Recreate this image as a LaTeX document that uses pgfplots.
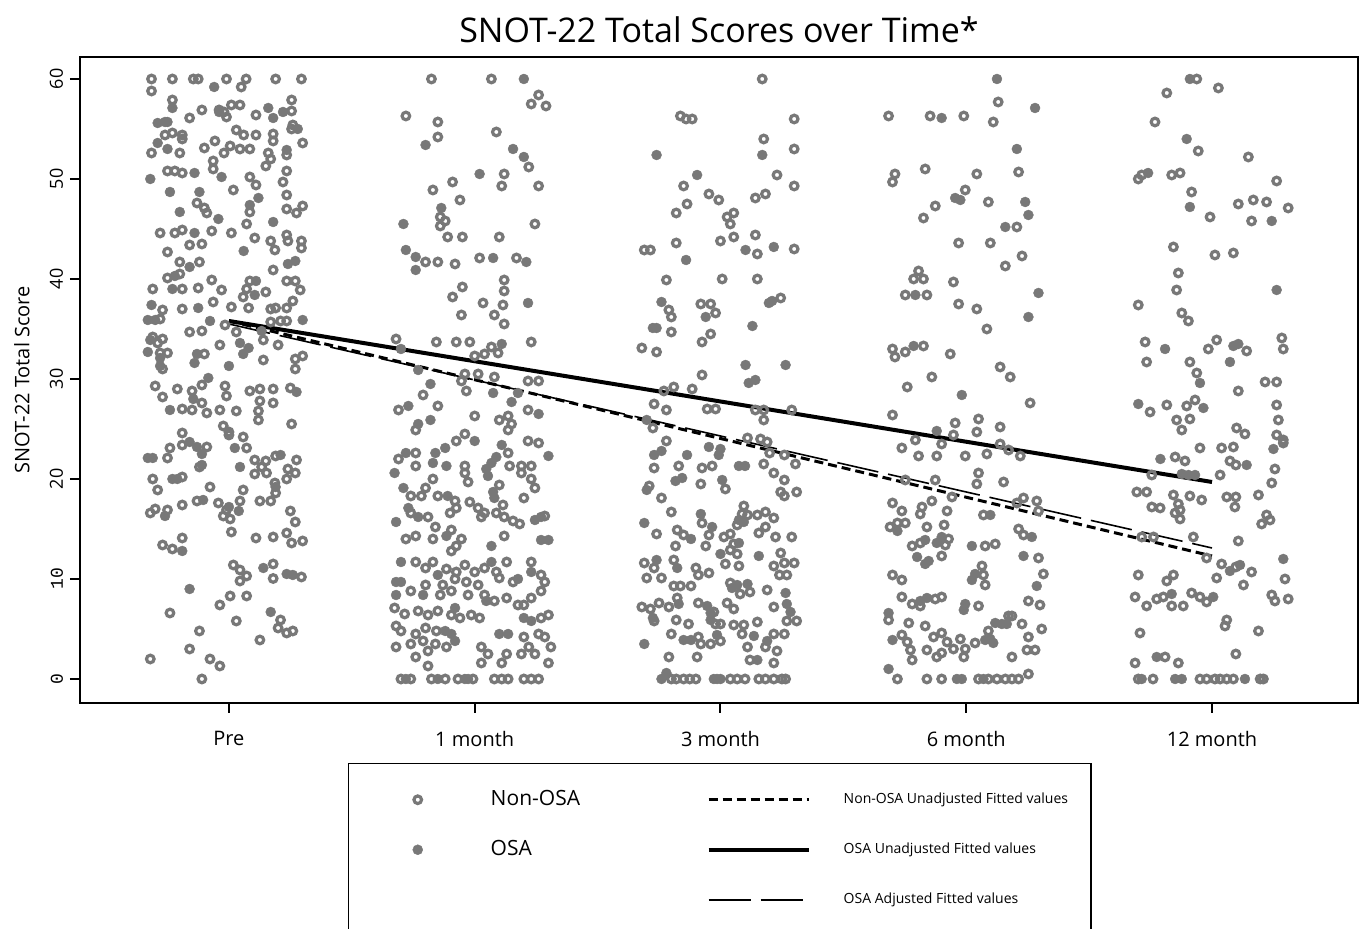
\documentclass[border=0pt]{standalone}
\usepackage{fontspec}
\setmainfont{Open Sans}
\setmonofont{Liberation Mono}
\usepackage{pgfplots}
\pgfplotsset{compat=1.18}
\definecolor{ptgray}{RGB}{120,120,120}
\pgfplotsset{
  Nstyle/.style={only marks, mark=o, mark size=1.9pt, mark options={line width=1.6pt, draw=ptgray}},
  Ostyle/.style={only marks, mark=*, mark size=2.5pt, mark options={draw=ptgray, fill=ptgray, line width=0.2pt}},
  legmark/.style={legend image code/.code={\path[draw=none,fill=none] (-34.5pt,-12.5pt) rectangle (36.5pt,12.5pt); \draw[##1] plot coordinates {(0pt,0pt)};}},
  legline/.style={legend image code/.code={\path[draw=none,fill=none] (-49pt,-12.5pt) rectangle (67.5pt,12.5pt); \draw[##1] (0pt,0pt) -- (50pt,0pt);}},
}
\begin{document}
\begin{tikzpicture}
\useasboundingbox (0pt,0pt) rectangle (681pt,464.5pt);
\node[font=\fontsize{17}{20}\selectfont] at (359.5pt,449.5pt) {SNOT-22 Total Scores over Time*};
\begin{axis}[
  at={(40pt,113pt)}, anchor=south west,
  scale only axis, width=639pt, height=323pt,
  xmin=-0.606, xmax=4.594, ymin=-2.4, ymax=62.2,
  axis line style={line width=1pt},
  tick style={black, line width=1pt},
  major tick length=5pt, tick align=outside,
  xtick pos=bottom, ytick pos=left,
  xtick={0,1,2,3,4},
  xticklabels={Pre,1 month,3 month,6 month,12 month},
  xticklabel style={font=\fontsize{10}{12}\selectfont, yshift=-5.5pt},
  ytick={0,10,20,30,40,50,60},
  yticklabels={\texttt{0},\texttt{10},20,30,40,50,60},
  yticklabel style={rotate=90, anchor=south, font=\fontsize{9}{11}\selectfont},
  ylabel={SNOT-22 Total Score},
  ylabel style={at={(axis description cs:-0.0454,0.5)}, anchor=center, font=\fontsize{10}{12}\selectfont},
  legend columns=2,
  legend cell align=left,
  legend style={at={(0.2097,-0.0929)}, anchor=north west, draw=black, line width=0.75pt,
    inner xsep=0pt, inner ysep=5.5pt, column sep=0pt, row sep=0pt, nodes={inner sep=0pt}},
]
% ---------- Non-OSA points ----------
\addplot[Nstyle, forget plot] table {
x y
-0.315 60
-0.23 60
-0.145 60
-0.125 60
-0.01 60
0.07 60
0.19 60
0.295 60
-0.315 58.8
0.05 59.2
-0.23 57.9
0.01 57.4
0.045 57.4
0.255 57.9
-0.04 56.9
0.255 56.8
-0.02 56.7
-0.11 56.9
0.26 55.4
-0.16 56.1
-0.01 56.2
0.11 56.4
-0.26 54.4
-0.23 54.6
-0.19 54.4
0.03 54.9
0.06 54.4
0.11 54.4
0.18 54.5
0.255 55
-0.315 52.6
-0.2 52.6
-0.19 54
-0.1 53.1
-0.057 53.8
0.005 53.3
-0.02 52.6
0.045 53
0.085 53
0.16 52.6
0.18 53.8
0.235 52.4
0.3 53.6
-0.064 51.8
0.17 52
0.15 51.3
-0.25 50.8
-0.22 50.8
-0.19 50.6
-0.064 51
0.085 50.2
0.235 50.8
0.018 48.9
0.11 49.4
0.22 49.7
0.235 48.4
-0.13 47.6
-0.1 47.1
-0.09 46.6
0.085 46.7
0.235 47
0.275 46.6
0.3 47.3
0.072 45.5
-0.28 44.6
-0.22 44.6
-0.19 44.9
-0.16 43.4
-0.11 43.5
-0.07 44.8
0.01 44.6
0.105 44.1
0.17 43.8
0.235 44.4
0.24 43.8
0.295 43.8
0.295 43.1
0.187 42.9
-0.25 42.7
-0.2 41.7
-0.12 41.7
0.18 40.9
-0.25 40.1
-0.2 40.5
-0.31 39
-0.19 39
-0.125 39.1
-0.07 39.9
-0.03 38.9
0.072 39
0.085 39.8
0.058 38.2
0.15 38.7
0.235 39.8
0.27 39.8
0.29 38.9
-0.19 37
-0.064 37.7
0.01 37.2
0.08 37.1
0.17 37
0.19 37.1
0.235 37.1
0.26 37.8
-0.27 36.9
-0.28 36
-0.016 35.4
0.17 35.7
0.21 35.8
0.235 35.8
-0.16 34.7
-0.11 34.8
0.03 34.7
-0.31 34.2
-0.29 33.6
-0.27 34
-0.28 32.6
-0.25 32.6
0.14 33.9
0.2 33.4
0.3 32.3
0.27 32
-0.037 33.4
-0.1 32.5
-0.27 31
0.14 31.9
0.27 31
-0.3 29.3
-0.21 29
-0.27 28.2
-0.15 28.8
-0.11 29.4
-0.11 27.6
-0.01 28.3
-0.016 29.3
0.085 28.8
0.126 29
0.126 27.8
0.12 26.8
0.18 29
0.18 27.6
0.25 29.1
-0.19 27
-0.15 26.9
-0.09 26.6
-0.037 26.9
0.03 26.8
0.12 25.9
0.255 25.5
-0.19 24.6
-0.023 25.3
0 24.7
0 24.4
0.058 24.2
0.072 23.1
-0.19 23.4
-0.24 23.1
-0.09 23.2
-0.25 22.1
0.105 21.9
0.15 21.8
0.19 22.3
0.275 21.9
0.24 21
-0.12 21.2
0.133 21.2
0.153 20.6
0.105 20.5
-0.31 20
-0.29 18.9
-0.19 20.2
0.187 19.6
0.19 18.6
0.235 20
0.27 20.6
-0.077 19.2
0.058 18.9
-0.13 17.8
-0.19 17.4
-0.25 16.9
-0.32 16.6
-0.3 17
-0.043 17.6
-0.01 16.9
-0.023 16.3
0.005 16
0.045 17.8
0.126 17.8
0.17 17.8
0.25 16.8
0.27 15.7
0.01 14.7
-0.19 14.1
0.11 14.1
0.18 14.2
0.235 14.6
0.255 13.6
0.3 13.8
-0.27 13.4
-0.23 13
0.018 11.4
0.045 10.9
0.072 10.3
0.18 11.5
0.045 9.8
0.18 10.05
0.295 10.2
0.005 8.3
0.072 8.3
-0.037 7.4
-0.24 6.6
0.03 5.8
0.21 5.9
-0.12 4.8
0.2 5.1
0.235 4.6
0.26 4.8
0.126 3.9
-0.16 3
-0.32 2
-0.077 2
-0.037 1.3
-0.11 0
0.824 60
1.068 60
1.26 58.4
1.23 57.5
1.29 57.3
0.72 56.3
0.85 55.7
1.088 54.7
0.85 54.2
1.22 51.2
1.12 50.5
0.91 49.7
1.11 49.3
1.26 49.3
0.83 48.9
0.94 47.9
0.86 46.2
0.88 45.8
0.86 45.3
1.245 45.5
0.89 44.2
0.95 44.2
1.1 44.2
0.8 41.7
0.85 41.7
0.92 41.5
1.02 42.1
1.17 42.1
1.12 39.9
1.12 38.8
0.95 39.2
0.91 38.2
1.034 37.6
1.115 37.4
1.08 36.4
0.946 36.4
1.12 35.5
0.68 34
0.844 33.7
0.925 33.7
0.98 33.7
1.068 33.2
1.23 33.7
1.095 32.6
1 32.3
1.04 32.5
0.96 30.5
1.014 30.5
0.946 29.8
1.08 30.2
1.217 29.8
1.26 29.8
0.966 28.8
0.79 28.4
0.69 26.9
0.85 27.3
1 26.3
1.136 26.3
1.217 26.9
1.1 25.9
0.76 24.9
1.136 24.9
1.15 25.5
0.96 24.5
0.925 23.8
1.217 23.8
1.26 23.6
0.76 22.6
0.69 22
1.136 22.6
0.96 21.3
0.96 20.6
1.142 21.3
1.19 21.3
1.23 21.3
1.19 20.6
1.23 20
0.76 21.3
0.83 20
0.973 19.7
1.1 19.4
1.245 19.1
0.8 19.1
0.74 18.3
0.783 18.3
0.85 18.3
0.92 17.8
0.98 17.7
1.014 17.1
1.04 16.6
1.088 16.6
1.115 17.4
1.2 18.1
0.74 16.6
0.81 16.2
0.9 16.6
0.925 17.1
1.027 16.2
1.12 16.2
1.156 15.8
1.183 15.5
1.285 16.3
0.84 15.2
0.905 14.9
0.72 14
0.76 14.3
0.83 14
0.946 14
0.925 13.3
1.12 14.3
0.905 12.8
0.76 11.7
0.8 11.1
0.83 11.7
0.885 11
0.925 10.7
0.96 11.4
1 10.7
1.04 11.1
1.088 10.7
1.13 11.7
1.23 11.7
1.27 10.4
1.285 9.7
0.8 9.4
0.87 9.4
0.92 10
0.966 9.7
1.014 9.4
1.1 10.1
1.156 9.7
1.27 8.8
0.74 8.8
0.86 8.4
0.905 8.8
0.973 8.4
1.04 8.4
1.08 7.8
1.13 8.1
1.176 7.4
1.2 7.4
1.23 8.1
0.674 7.1
0.715 6.5
0.77 6.8
0.81 6.4
0.85 6.8
0.905 6.4
0.94 6.1
0.986 6.4
1.02 6.1
1.27 6.1
1.3 6.4
0.68 5.3
0.7 4.8
0.76 4.5
0.8 5.1
0.844 4.8
0.74 3.5
0.79 3.8
0.84 3.5
0.885 3.2
0.68 3.2
1.2 4.2
1.26 4.5
1.285 4.2
1.22 3.2
1.31 3.2
1.027 3.2
1.054 2.5
0.76 2.2
0.81 2.8
1.13 2.5
1.19 2.5
1.245 2.5
1.3 1.6
1.11 1.6
0.81 1.3
1.027 1.6
0.7 0
0.74 0
0.824 0
0.88 0
0.932 0
0.993 0
1.08 0
1.11 0
1.136 0
1.2 0
1.23 0
1.26 0
2.17 60
1.837 56.3
1.86 56
1.885 56
2.3 56
2.176 54
2.3 53
2.23 50.4
1.85 49.3
2.3 49.3
1.953 48.5
1.993 47.9
2.142 48.1
2.183 48.5
1.864 47.5
1.82 46.6
2.027 46.2
2.054 46.6
2.04 45.5
2.142 44.4
2 43.8
2.054 44.2
1.82 43.6
1.69 42.9
1.715 42.9
2.15 42.5
2.3 43
1.78 39.9
2.007 40
2.15 40
1.79 36.9
1.8 36.2
1.92 37.5
1.96 37.5
1.98 36.6
2.245 38.1
1.8 34.7
1.96 34.5
1.68 33.1
1.74 32.7
1.925 33.7
1.925 30.4
1.81 29.2
1.77 28.8
1.885 29
1.73 27.5
1.78 26.9
1.946 27
1.98 27
2.142 26.9
2.176 26.9
2.29 26.9
1.725 25.1
2.176 25.9
1.78 23.8
2.11 24.1
2.163 24
2.2 22.6
2.19 23.7
2.26 22.4
2.305 21.5
1.73 21.1
1.83 21.3
1.925 21.1
1.966 21.3
2.176 21.5
2.217 20.6
2.26 19.9
1.92 19.5
2.02 19
1.71 19.3
1.76 18.1
2.245 18.7
2.26 18.3
2.31 18.7
2.095 17.3
2.088 16.5
2.11 16.4
2.068 15.4
2.15 16.4
2.183 16.7
2.217 16.1
2.183 15.2
1.8 16.7
1.925 15.6
1.74 14.5
1.824 14.9
1.85 14.4
1.953 14.4
2.014 14.2
2.04 14.5
2.224 14.2
2.29 14.2
2.156 14.6
2.054 13.5
1.817 13.3
1.94 13.3
2.04 12.9
2.068 12.5
2.245 12.6
1.69 11.6
1.73 11.1
1.81 11.9
2.02 11.5
2.075 11.3
2.217 11.3
2.26 11.6
2.3 11.6
1.7 10.1
1.76 10.1
1.9 11.1
1.91 10.4
1.953 10.6
2.27 10.4
2.24 10.4
1.81 9.3
1.837 9.3
1.88 9.3
2.04 9.6
2.08 8.5
2.12 8.7
2.19 8.9
1.824 8.1
1.68 7.2
1.715 7
1.75 7.6
1.79 7.2
1.91 7.6
1.973 6.7
2.027 7.6
2.054 7
2.217 7.2
1.98 5.5
1.73 5.8
1.82 5.9
1.87 5.5
2 5.5
2.054 5.4
2.095 5.4
2.15 5.7
2.27 5.8
2.31 5.8
1.8 4.5
1.91 4.2
2.088 4.5
2.217 4.5
2.26 4.5
1.92 3.5
1.96 3.5
2 3.8
2.11 3.2
2.183 3.2
2.23 2.8
1.79 2.2
1.905 2.2
2.12 1.9
2.217 1.6
1.8 0
1.82 0
1.85 0
1.875 0
1.9 0
2.04 0
2.068 0
2.1 0
2.156 0
2.183 0
2.217 0
2.25 0
2.265 0
2.684 56.3
2.853 56.3
2.99 56.3
3.13 57.7
3.11 55.7
2.833 51
2.71 50.5
3.043 50.5
3.213 50.7
2.7 49.7
2.996 48.9
3.09 47.7
2.874 47.3
2.826 46.1
3.206 45.2
2.969 43.6
3.098 43.6
3.227 42.3
3.159 41.3
2.806 40.8
2.786 40
2.826 40
2.948 39.7
2.752 38.4
2.84 38.4
2.969 37.5
3.043 37
3.084 35
2.7 33
2.71 32.2
2.752 32.7
2.826 33.3
2.935 32.5
2.86 30.2
3.138 31.2
3.179 30.2
2.76 29.2
3.26 27.6
2.7 26.4
2.955 25.6
3.05 26
2.948 24.4
3.043 24.7
3.138 25.2
2.793 23.9
2.738 23.1
2.9 23.5
3.138 23.5
3.172 22.9
3.22 22.3
2.806 22.3
2.88 22.3
2.996 22.3
3.084 22.5
3.05 20.6
2.752 19.9
2.874 19.9
3.043 19.5
3.152 19.7
2.942 18.2
2.7 17.6
2.738 16.8
2.813 16.5
2.82 17.2
2.86 17.8
2.922 16.8
3.07 16.4
3.206 17.6
3.233 18.1
3.294 16.8
3.287 17.8
2.69 15.2
2.72 15.6
2.752 15.6
2.84 15.2
2.91 15.4
3.213 15
3.233 14.4
2.78 13.3
2.813 13.6
2.915 13.4
2.928 14
3.077 13.3
3.118 13.5
3.294 12.1
2.9 12.3
3.064 11.3
3.07 10.4
2.7 10.4
2.738 9.9
3.314 10.5
3.077 9.4
2.738 8.2
2.78 7.5
2.813 7.3
2.874 8
2.9 8.2
3.05 7.3
3.253 7.8
3.3 7.4
3.172 6.3
3.186 6.3
2.684 5.9
2.766 5.6
2.833 5.3
3.09 4.8
3.227 5.5
3.307 5
3.253 4.2
2.738 4.4
2.76 3.7
2.867 4.2
2.9 4.6
2.922 3.7
2.976 4
3.036 3.6
2.773 2.9
2.84 2.9
2.9 2.6
2.948 3
2.996 3
2.88 2.2
2.78 1.9
2.99 2.2
3.186 2.2
3.247 2.9
3.28 2.9
2.72 0
2.84 0
2.9 0
3.05 0
3.09 0
3.125 0
3.159 0
3.186 0
3.213 0
3.253 0.5
3.938 60
4.026 59.1
3.816 58.6
3.768 55.7
3.944 52.8
4.148 52.2
3.714 50.4
3.7 50
3.836 50.4
3.87 50.6
4.263 49.8
3.917 48.7
4.168 47.9
4.222 47.7
4.107 47.5
4.31 47.1
3.992 46.2
4.161 45.8
3.843 43.2
4.012 42.4
4.087 42.6
3.863 40.6
3.856 38.9
3.7 37.4
3.877 36.6
3.904 35.8
3.728 33.7
3.985 33
4.019 33.9
4.141 32.8
4.284 34.1
4.29 33
3.734 31.7
3.91 31.7
3.938 30.6
4.216 29.7
4.263 29.7
4.107 28.8
3.748 26.7
3.816 27.4
3.931 27.9
3.897 27.3
4.263 27.4
4.27 25.9
3.856 25.9
3.91 26
3.877 24.9
4.1 25.1
4.134 24.5
4.263 24.4
4.29 23.6
3.951 23.1
4.039 23.1
4.087 23.2
4.29 23.9
3.85 22.2
3.89 21.8
4.073 21.8
4.097 21.4
4.256 21
3.755 20.4
4.033 20.4
4.243 19.6
3.694 18.7
3.734 18.7
3.843 18.4
3.91 18.3
3.958 17.9
4.06 18.2
4.097 18.2
4.189 18.4
3.863 17.5
3.87 16.9
4.093 17.2
3.755 17.2
3.789 17.1
3.85 16.6
4.222 16.4
3.87 16
4.202 15.5
4.236 15.9
3.714 14.2
3.762 14.2
3.924 14.2
4.107 13.8
3.978 12.1
4.039 11.5
4.097 11.2
4.161 10.7
4.019 10.1
3.7 10.4
3.843 10.4
3.816 9.8
4.128 9.4
4.297 10
3.687 8.2
3.775 8
3.802 8.2
3.917 8.6
3.951 8.2
3.734 7.3
3.836 7.3
3.883 7.3
3.978 7.7
4.243 8.4
4.256 7.8
4.31 8
4.06 5.9
4.053 5.3
4.189 4.8
3.707 4.6
4.097 2.5
3.809 2.2
3.863 1.6
3.687 1.6
3.7 0
3.76 0
3.951 0
3.978 0
4.012 0
4.033 0
4.06 0
4.087 0
4.196 0
4.209 0
};
% ---------- OSA points ----------
\addplot[Ostyle, forget plot] table {
x y
-0.06 59.2
-0.23 57.1
0.16 57.1
-0.04 56.7
0.18 56.1
0.22 56.7
-0.26 55.7
-0.25 55.7
-0.29 55.6
0.28 55
-0.29 53.6
-0.25 53
0.235 52.9
-0.14 50.6
-0.03 50.2
-0.32 50
-0.24 48.7
-0.12 48.7
0.12 48.1
-0.2 46.7
0.085 47.4
-0.043 46
0.18 45.7
-0.14 44.6
0.06 42.8
-0.16 41.2
0.24 41.5
0.27 41.8
-0.22 40.3
-0.23 39
0.11 39.8
0.105 38.4
-0.315 37.4
-0.125 37.1
-0.33 35.9
-0.3 35.9
-0.077 35.8
0.3 35.9
0.133 34.8
-0.32 33.9
-0.28 32.1
-0.33 32.7
0.045 33.6
0.08 33.1
-0.13 32.5
0.058 32.5
-0.14 31.6
-0.28 31.3
0 31.3
-0.084 30.1
-0.145 28
0.275 28.7
-0.24 26.9
-0.33 22.1
-0.31 22.1
-0.16 23.7
-0.13 23.2
-0.11 22.5
0.024 23.1
0.21 22.4
-0.11 21.4
0.045 21.2
-0.23 20
-0.21 20
0.19 19.2
-0.105 17.9
-0.26 16.3
0 17.2
0.04 16.8
-0.19 12.8
0.14 11.1
0.235 10.5
0.26 10.4
-0.16 9
0.17 6.7
1.2 60
0.8 53.4
1.156 53
1.2 52.2
1.02 50.5
0.864 47.1
0.71 45.5
0.72 42.9
0.76 42.2
0.76 40.9
1.075 42.1
1.21 41.7
1.217 37.6
0.7 33
1.11 33.5
0.77 30.9
0.82 29.5
1.075 28.6
1.176 28.6
0.73 27.3
1.15 27.7
1.26 26.5
0.77 25.5
0.82 25.9
1 23.8
0.88 23.1
0.84 22.6
0.72 22.6
1.11 23.4
1.3 22.3
0.83 21.6
0.885 21.3
1.047 21
1.068 21.6
1.088 22.2
0.674 20.6
1.054 20.3
0.71 19.1
0.89 18.3
1.075 18.7
1.08 18.1
0.73 17.1
0.77 16.2
1.245 15.9
1.27 16.2
0.68 15.7
0.885 14.3
1.068 13.3
1.27 13.9
1.3 13.9
0.7 11.7
0.85 10.4
1.068 11.7
1.23 10.7
0.68 9.7
0.7 9.7
1.176 10
0.68 8.4
0.79 8.4
1.047 7.8
0.92 7.1
1.2 6.1
1.23 5.8
0.88 4.8
0.905 4.5
0.92 3.8
1.1 4.5
1.136 4.5
0.72 0
0.85 0
0.96 0
0.973 0
1.74 52.4
2.17 52.4
1.905 50.4
1.86 41.9
2.102 42.9
2.217 43.2
1.76 37.7
2.197 37.6
2.21 37.8
1.94 36.2
1.725 35.1
1.74 35.1
2.13 35.3
2.102 31.4
2.265 31.4
2.115 29.6
2.142 29.9
1.7 25.9
1.73 22.4
1.76 22.8
1.864 22.4
1.953 23.2
1.993 22.4
2 23
2.075 21.3
2.1 21.3
1.817 19.8
1.844 20.1
2.007 19.9
1.7 18.9
2.075 15.9
2.095 15.7
1.69 15.6
1.92 16.5
1.966 15.2
1.88 14
2.075 13.6
2 12.5
2.156 12.3
1.74 11.9
1.824 11.1
2.047 9.1
2.068 9.4
2.11 9.5
2.265 8.6
1.83 7.5
1.946 7.3
1.96 6.6
2.27 7.5
2.285 6.7
1.96 5.9
1.725 6.1
1.85 3.9
1.88 3.9
1.986 4.4
2.136 4.3
2.19 3.8
1.69 3.5
2.15 1.9
1.76 0
1.78 0.6
1.973 0
1.986 0
2 0
3.125 60
3.28 57.1
2.9 56.1
3.206 53
2.955 48.1
2.976 47.9
3.24 47.7
3.253 46.4
3.159 45.2
3.294 38.6
2.793 38.4
3.253 36.2
2.786 33.3
2.982 28.4
2.88 24.8
3.098 16.4
2.72 14.8
3.267 14.2
2.833 13.9
2.88 13.6
2.9 14.2
3.023 13.3
3.233 12.3
2.8 12.2
2.833 11.5
2.847 11.8
3.036 10.5
3.023 9.9
3.287 9.3
2.813 7.8
2.84 8.1
2.996 7.5
2.99 6.9
2.684 6.6
3.118 5.6
3.145 5.5
3.165 5.5
3.098 4
2.7 3.9
3.077 3.9
3.11 3.6
2.684 1
2.962 0
2.982 0
3.07 0
3.91 60
3.897 54
3.74 50.6
3.91 47.2
4.243 45.8
4.263 38.9
3.809 33
4.087 33.3
4.107 33.5
4.073 31.7
3.951 29.6
3.7 27.5
3.965 27.1
4.25 23
4.141 21.4
3.79 22
3.877 20.5
3.931 20.4
3.904 20.4
4.29 12
4.073 10.8
4.114 11.4
3.836 8.5
4.005 8.2
3.775 2.2
3.714 0
3.85 0
3.877 0
4.134 0
};
% ---------- fitted lines ----------
\addplot[black, line width=2pt, forget plot] coordinates {(0,35.8) (4,19.7)};
\addplot[black, line width=1.5pt, dash pattern=on 4.5pt off 2.5pt, forget plot] coordinates {(0,35.8) (4,12.3)};
\addplot[black, line width=0.8pt, dash pattern=on 21pt off 5pt, forget plot] coordinates {(0,35.5) (4,13.1)};
% ---------- legend ----------
\addlegendimage{legmark, Nstyle}
\addlegendentry{\makebox[60pt][l]{\fontsize{10.5}{12}\selectfont Non-OSA}}
\addlegendimage{legline, black, line width=1.5pt, dash pattern=on 4.5pt off 2.5pt}
\addlegendentry{\makebox[123.5pt][l]{\fontsize{7}{8}\selectfont Non-OSA Unadjusted Fitted values}}
\addlegendimage{legmark, Ostyle}
\addlegendentry{\makebox[60pt][l]{\fontsize{10.5}{12}\selectfont OSA}}
\addlegendimage{legline, black, line width=2pt}
\addlegendentry{\makebox[123.5pt][l]{\fontsize{7}{8}\selectfont OSA Unadjusted Fitted values}}
\addlegendimage{empty legend}
\addlegendentry{}
\addlegendimage{legline, black, line width=0.8pt, dash pattern=on 21pt off 5pt}
\addlegendentry{\makebox[123.5pt][l]{\fontsize{7}{8}\selectfont OSA Adjusted Fitted values}}
\end{axis}
\end{tikzpicture}
\end{document}
